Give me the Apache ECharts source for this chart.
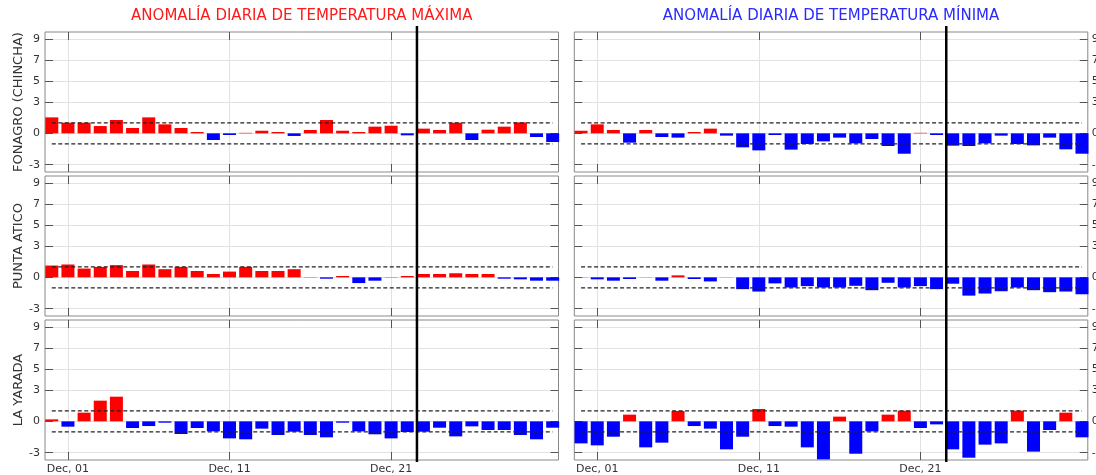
<!DOCTYPE html>
<html><head><meta charset="utf-8">
<script src="https://cdn.jsdelivr.net/npm/echarts@6/dist/echarts.min.js"></script>
<style>html,body{margin:0;padding:0;background:#fff}#c{width:1096px;height:475px}</style>
</head><body><div id="c"></div>
<script>
// ---- data ----
const dayIndex = [0,1,2,3,4,5,6,7,8,9,10,11,12,13,14,15,16,17,18,19,20,21,22,23,24,25,26,27,28,29,30,31]; // 0 = Nov 30, 1 = Dec 01 ... 31 = Dec 31
const tickDays = [1, 11, 21];
const tickLabels = ['Dec, 01', 'Dec, 11', 'Dec, 21'];
const yTicks = [-3, 0, 3, 5, 7, 9];
const stations = ['FONAGRO (CHINCHA)', 'PUNTA ATICO', 'LA YARADA'];
const columnTitles = ['ANOMALÍA DIARIA DE TEMPERATURA MÁXIMA', 'ANOMALÍA DIARIA DE TEMPERATURA MÍNIMA'];
const thresholds = [1, -1];
const markerDay = [22.6];

const fonagroMax = [1.53,1.02,1.02,0.70,1.28,0.51,1.53,0.86,0.51,0.13,-0.64,-0.16,0.05,0.25,0.13,-0.25,0.32,1.28,0.25,0.13,0.64,0.73,-0.19,0.45,0.32,1.02,-0.64,0.35,0.64,1.05,-0.35,-0.83];
const fonagroMin = [0.25,0.86,0.32,-0.89,0.32,-0.35,-0.41,0.13,0.45,-0.22,-1.34,-1.63,-0.16,-1.56,-1.02,-0.77,-0.41,-0.96,-0.54,-1.21,-1.95,0.05,-0.16,-1.18,-1.21,-0.96,-0.22,-1.02,-1.15,-0.41,-1.53,-1.95];
const puntaMax = [1.13,1.23,0.84,1.00,1.17,0.61,1.23,0.78,1.00,0.61,0.32,0.55,1.00,0.61,0.61,0.78,0.03,-0.13,0.13,-0.55,-0.32,0.03,0.13,0.32,0.32,0.39,0.32,0.32,-0.13,-0.19,-0.32,-0.32];
const puntaMin = [0.02,-0.19,-0.32,-0.16,0.02,-0.32,0.19,-0.16,-0.39,0.02,-1.13,-1.36,-0.58,-0.97,-0.84,-0.97,-0.97,-0.81,-1.23,-0.52,-0.97,-0.84,-1.13,-0.61,-1.75,-1.55,-1.33,-0.97,-1.23,-1.42,-1.36,-1.62];
const yaradaMax = [0.19,-0.51,0.83,1.98,2.36,-0.64,-0.45,-0.13,-1.21,-0.64,-0.96,-1.63,-1.72,-0.70,-1.31,-0.99,-1.31,-1.53,-0.13,-0.96,-1.24,-1.63,-1.02,-0.99,-0.61,-1.44,-0.48,-0.83,-0.83,-1.31,-1.72,-0.61];
const yaradaMin = [-2.11,-2.30,-1.47,0.64,-2.49,-2.04,0.99,-0.45,-0.70,-2.68,-1.47,1.18,-0.45,-0.51,-2.49,-3.64,0.45,-3.10,-0.96,0.64,1.02,-0.64,-0.29,-2.68,-3.48,-2.23,-2.11,1.02,-2.90,-0.83,0.83,-1.53];

// ---- layout / style ----
const FONT = 'DejaVu Sans';
const colLeft = [45, 574.3];
const colWidth = 513.5;
const rowTop = [32, 176, 320];
const rowHeight = 140;
const xMin = -0.42, xMax = 31.36;
const yMin = -3.7, yMax = 9.7;
const RED = '#ff0000', BLUE = '#0000ff';

const panels = [
  {row: 0, col: 0, values: fonagroMax},
  {row: 0, col: 1, values: fonagroMin},
  {row: 1, col: 0, values: puntaMax},
  {row: 1, col: 1, values: puntaMin},
  {row: 2, col: 0, values: yaradaMax},
  {row: 2, col: 1, values: yaradaMin}
];

const grid = [], xAxis = [], yAxis = [], series = [];
const tickStyle = {show: true, inside: true, length: 8, lineStyle: {color: '#555', width: 1}};
const noLine = {show: false, onZero: false};

panels.forEach((p, i) => {
  grid.push({left: colLeft[p.col], top: rowTop[p.row], width: colWidth, height: rowHeight,
    show: true, borderColor: '#888', borderWidth: 1, backgroundColor: 'transparent',
    containLabel: false, outerBoundsMode: 'none'});
  // bottom x
  xAxis.push({gridIndex: i, type: 'value', position: 'bottom', min: xMin, max: xMax,
    axisLine: noLine,
    axisTick: Object.assign({customValues: tickDays}, tickStyle),
    axisLabel: {show: p.row === 2, customValues: tickDays, margin: 4,
      fontFamily: FONT, fontSize: 11, color: '#333',
      formatter: v => tickLabels[tickDays.indexOf(Math.round(v))] || ''},
    splitLine: {show: true, lineStyle: {color: '#e2e2e2', width: 1}}});
  // top x (ticks only)
  xAxis.push({gridIndex: i, type: 'value', position: 'top', min: xMin, max: xMax,
    axisLine: noLine,
    axisTick: Object.assign({customValues: tickDays}, tickStyle),
    axisLabel: {show: false, customValues: tickDays},
    splitLine: {show: false}});
  const mainPos = p.col === 0 ? 'left' : 'right';
  const otherPos = p.col === 0 ? 'right' : 'left';
  yAxis.push({gridIndex: i, type: 'value', position: mainPos, min: yMin, max: yMax,
    axisLine: noLine,
    axisTick: Object.assign({customValues: yTicks}, tickStyle),
    axisLabel: {show: true, customValues: yTicks, margin: p.col === 0 ? 5 : 4,
      fontFamily: FONT, fontSize: 11, color: '#333'},
    splitLine: {show: true, lineStyle: {color: '#e2e2e2', width: 1}},
    name: p.col === 0 ? stations[p.row] : '',
    nameLocation: 'middle', nameGap: 20, nameRotate: 90,
    nameTextStyle: {fontFamily: FONT, fontSize: 13, color: '#333'}});
  yAxis.push({gridIndex: i, type: 'value', position: otherPos, min: yMin, max: yMax,
    axisLine: noLine,
    axisTick: Object.assign({customValues: yTicks}, tickStyle),
    axisLabel: {show: false, customValues: yTicks},
    splitLine: {show: false}});

  series.push({type: 'bar', xAxisIndex: 2 * i, yAxisIndex: 2 * i, barWidth: 13, z: 2,
    data: dayIndex.map((d, k) => [d, p.values[k]]),
    itemStyle: {color: params => (params.value[1] >= 0 ? RED : BLUE)},
    silent: true});
  thresholds.forEach(t => {
    series.push({type: 'line', xAxisIndex: 2 * i, yAxisIndex: 2 * i, z: 3,
      symbol: 'none', silent: true,
      data: [[dayIndex[0], t], [dayIndex[dayIndex.length - 1], t]],
      lineStyle: {color: '#222', width: 1.2, type: [4, 2.5]}});
  });
});

// overlay grids for the marker line spanning all rows
[0, 1].forEach(c => {
  const gi = grid.length;
  grid.push({left: colLeft[c], top: 26, width: colWidth, height: 436, show: false,
    containLabel: false, outerBoundsMode: 'none'});
  const xi = xAxis.length, yi = yAxis.length;
  xAxis.push({gridIndex: gi, type: 'value', min: xMin, max: xMax, show: false, axisLine: noLine});
  yAxis.push({gridIndex: gi, type: 'value', min: 0, max: 1, show: false, axisLine: noLine});
  series.push({type: 'line', xAxisIndex: xi, yAxisIndex: yi, z: 10, symbol: 'none', silent: true,
    data: [[markerDay[0], 0], [markerDay[0], 1]],
    lineStyle: {color: '#000', width: 2.5}});
});

const title = [
  {text: columnTitles[0], left: colLeft[0] + colWidth / 2, textAlign: 'center', top: 9, padding: 0,
    textStyle: {fontFamily: FONT, fontSize: 15, fontWeight: 'normal', color: '#ff1a1a'}},
  {text: columnTitles[1], left: colLeft[1] + colWidth / 2, textAlign: 'center', top: 9, padding: 0,
    textStyle: {fontFamily: FONT, fontSize: 15, fontWeight: 'normal', color: '#2a2aff'}}
];

const chart = echarts.init(document.getElementById('c'), null, {renderer: 'canvas'});
chart.setOption({animation: false, backgroundColor: '#fff', title, grid, xAxis, yAxis, series,
  tooltip: {show: false}, legend: {show: false}});
</script>
</body></html>
